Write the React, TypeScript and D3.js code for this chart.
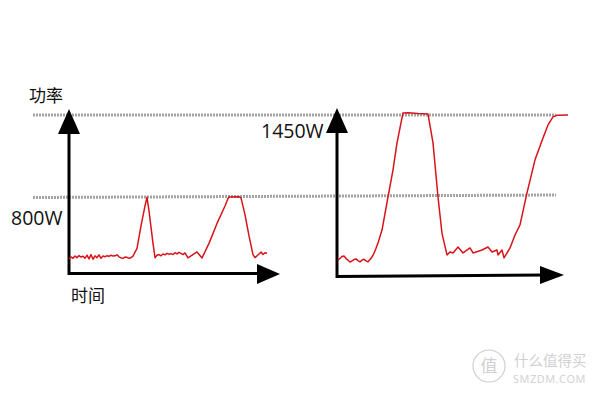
import React from "react";
import * as d3 from "d3";

// Left panel: [time, watts]
const leftTime = [0,1,2,3,4,5,6,7,8,9,10,11,12,13,14,15,16,17,18,19,20,21,22,23,24,25,26,27,28,29,30,31,32,34,36,38,39,40,42,43,44,45,46,47,48,49,50,51,52,53,54,55,56,57,58,59.5,61,64,66.5,70,74,78,79.5,80,85,86,88,90,92,93,95,96,97,98,99];
const leftWatts = [295,311,300,318,305,322,310,316,300,325,296,330,292,320,305,328,300,318,312,322,315,325,318,320,328,312,303,300,310,308,300,305,318,380,560,720,790,680,420,305,325,330,320,335,328,340,332,338,330,345,335,348,340,330,343,303,320,351,303,420,580,720,780,792,795,785,650,480,330,305,335,350,330,345,340];

// Right panel: [time, watts]
const rightTime = [0,1,2,3,4,5,6,7,8,9,10,11,12,13,14,15,16,17,18,19,20,22,25,27.5,29.5,32.5,35,40,45,47.5,50,52,54.5,56,57.5,60,62.5,66,67.5,72,75,77,79.5,80,82,83,86,88.5,91,94.5,98.5,102.5,105,107.5,109.5,115];
const rightWatts = [285,300,315,318,298,285,270,280,290,295,282,272,285,292,280,272,290,311,340,380,423,527,792,1010,1226,1467,1468,1462,1458,1226,792,500,327,351,343,391,343,383,343,367,391,351,367,327,367,303,383,487,568,825,1090,1266,1370,1435,1448,1450];

const refLevels = [1450, 800];
const levelLabels = ["1450W", "800W"];
const yAxisTitle = "功率";
const xAxisTitle = "时间";

export default function App() {
  const W = 600, H = 401;
  const y = d3.scaleLinear().domain([0, 1450]).range([295.7, 115]);
  const xL = d3.scaleLinear().domain([0, 100]).range([69, 269]);
  const xR = d3.scaleLinear().domain([0, 115]).range([338, 568]);

  const lineL = d3.line<number>().x((_, i) => xL(leftTime[i])).y((d) => y(d));
  const lineR = d3.line<number>().x((_, i) => xR(rightTime[i])).y((d) => y(d));

  const red = "#d7141a";
  const grey = "#a3a3a3";
  const latin = "'Open Sans', 'DejaVu Sans', sans-serif";
  const cjk = "'Noto Sans CJK SC', sans-serif";

  return (
    <svg width={W} height={H} style={{ position: "absolute", left: 0, top: 0, background: "#fff" }}>
      {/* dashed reference lines */}
      {refLevels.map((v) => (
        <line key={v} x1={33} x2={556} y1={y(v) + (v === 800 ? 1.5 : 0)} y2={y(v) - (v === 800 ? 1 : 0)}
          stroke={grey} strokeWidth={3} strokeDasharray="2,1" />
      ))}

      {/* left axes */}
      <line x1={69} y1={128} x2={69} y2={275} stroke="#000" strokeWidth={3} />
      <polygon points="69,109 58,134 80,134" fill="#000" />
      <line x1={68} y1={273.5} x2={262} y2={273.5} stroke="#000" strokeWidth={3} />
      <polygon points="280,274 257,264 257,284" fill="#000" />

      {/* right axes */}
      <line x1={337} y1={128} x2={337} y2={278} stroke="#000" strokeWidth={3} />
      <polygon points="337,108 326,133 348,133" fill="#000" />
      <line x1={336} y1={276.5} x2={545} y2={275} stroke="#000" strokeWidth={3} />
      <polygon points="564,275 540,266 540,284" fill="#000" />

      {/* data */}
      <path d={lineL(leftWatts) || ""} fill="none" stroke={red} strokeWidth={1.5} strokeLinejoin="round" />
      <path d={lineR(rightWatts) || ""} fill="none" stroke={red} strokeWidth={1.5} strokeLinejoin="round" />

      {/* texts */}
      <text x={29} y={102} fontFamily={cjk} fontSize={17} fill="#111">{yAxisTitle}</text>
      <text x={71} y={302} fontFamily={cjk} fontSize={17} fill="#111">{xAxisTitle}</text>
      <text x={11} y={225} fontFamily={latin} fontSize={19.5} fill="#111">{levelLabels[1]}</text>
      <text x={261} y={138} fontFamily={latin} fontSize={19.5} fill="#111">{levelLabels[0]}</text>

      {/* watermark */}
      <g opacity={0.55}>
        <circle cx={489} cy={366} r={16} fill="none" stroke="#aaa" strokeWidth={1.2} />
        <text x={489} y={372} textAnchor="middle" fontFamily={cjk} fontSize={17} fill="#aaa">值</text>
        <text x={514} y={366} fontFamily={cjk} fontSize={14.5} fill="#aaa">什么值得买</text>
        <text x={513} y={383} fontFamily={latin} fontSize={11} fill="#aaa" letterSpacing={0.5}>SMZDM.COM</text>
      </g>
    </svg>
  );
}
